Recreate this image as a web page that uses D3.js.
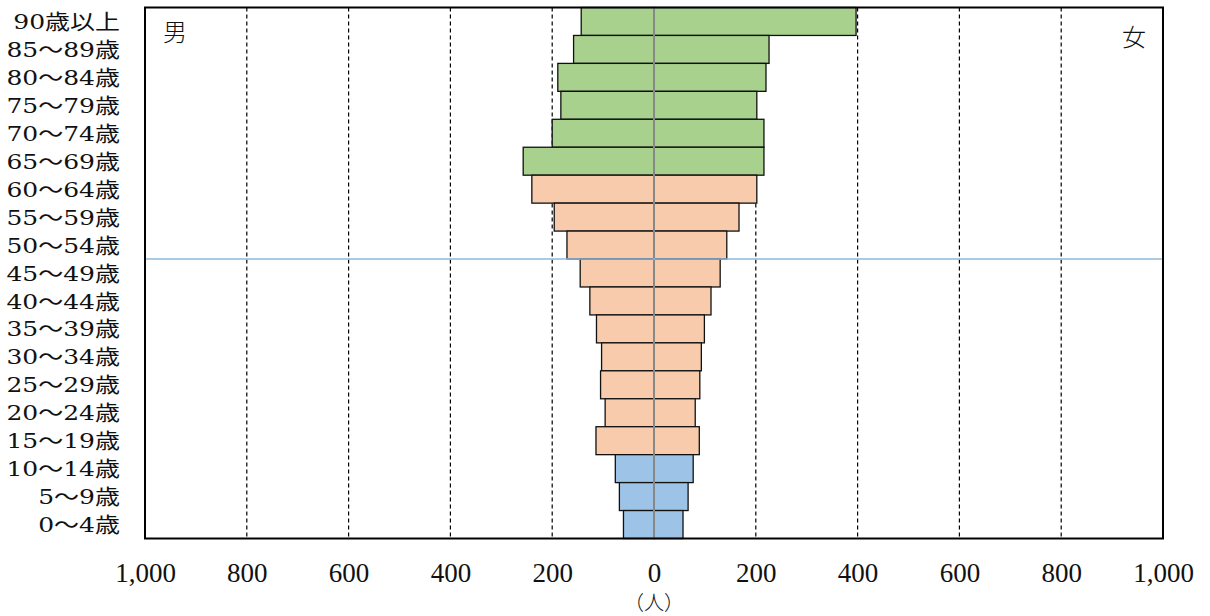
<!DOCTYPE html>
<html>
<head>
<meta charset="utf-8">
<script src="https://cdn.jsdelivr.net/npm/d3@7"></script>
<style>
  body { margin: 0; background: #fff; }
  svg { display: block; }
  .serif { font-family: "Liberation Serif", "Noto Sans CJK JP", serif; }
  .lbl { font-family: "DejaVu Serif", "Noto Sans CJK JP", serif; }
</style>
</head>
<body>
<svg id="chart" width="1210" height="616"></svg>
<script>
// age groups, top to bottom
const ageGroups = ["90歳以上", "85～89歳", "80～84歳", "75～79歳", "70～74歳", "65～69歳",
  "60～64歳", "55～59歳", "50～54歳", "45～49歳", "40～44歳", "35～39歳", "30～34歳",
  "25～29歳", "20～24歳", "15～19歳", "10～14歳", "5～9歳", "0～4歳"];
const male = [143, 158, 189, 183, 200, 257, 240, 196, 171, 145, 126, 113, 103, 105, 96, 114, 76, 68, 60];
const female = [397, 226, 220, 202, 216, 216, 202, 167, 143, 130, 112, 99, 93, 90, 81, 89, 77, 67, 57];
// 65+ / 15-64 / 0-14
const band = ["old", "old", "old", "old", "old", "old", "work", "work", "work", "work", "work",
  "work", "work", "work", "work", "work", "young", "young", "young"];
const ticks = [0, 200, 400, 600, 800, 1000];
const markerAfter = "50～54歳"; // blue line under this row

const colors = { old: "#a9d18e", work: "#f8cbad", young: "#9dc3e6" };

const svg = d3.select("#chart");
const cx = 654, pLeft = 145, pRight = 1163, pTop = 7.5, pBottom = 538.5;

const xL = d3.scaleLinear().domain([0, 1000]).range([cx, pLeft]);
const xR = d3.scaleLinear().domain([0, 1000]).range([cx, pRight]);
const y = d3.scaleBand().domain(ageGroups).range([pTop, pBottom]).padding(0);

const rows = ageGroups.map((a, i) => ({ age: a, m: male[i], f: female[i], band: band[i] }));

// dashed grid
const grid = svg.append("g");
ticks.filter(t => t > 0 && t < 1000).forEach(t => {
  [xL(t), xR(t)].forEach(x => {
    grid.append("line")
      .attr("x1", x).attr("x2", x).attr("y1", pTop).attr("y2", pBottom)
      .attr("stroke", "#000").attr("stroke-width", 1.2)
      .attr("stroke-dasharray", "4,3");
  });
});

// bars
const bars = svg.append("g");
bars.selectAll(".male").data(rows).enter().append("rect")
  .attr("class", "male")
  .attr("x", d => xL(d.m)).attr("y", d => y(d.age))
  .attr("width", d => cx - xL(d.m)).attr("height", y.bandwidth())
  .attr("fill", d => colors[d.band])
  .attr("stroke", "#111").attr("stroke-width", 1.3);
bars.selectAll(".female").data(rows).enter().append("rect")
  .attr("class", "female")
  .attr("x", cx).attr("y", d => y(d.age))
  .attr("width", d => xR(d.f) - cx).attr("height", y.bandwidth())
  .attr("fill", d => colors[d.band])
  .attr("stroke", "#111").attr("stroke-width", 1.3);

// centre axis
svg.append("line")
  .attr("x1", cx).attr("x2", cx).attr("y1", pTop).attr("y2", pBottom)
  .attr("stroke", "#888").attr("stroke-width", 2);

// blue marker line
const my = y(markerAfter) + y.bandwidth();
svg.append("line")
  .attr("x1", pLeft).attr("x2", pRight + 1).attr("y1", my).attr("y2", my)
  .attr("stroke", "#8fb9de").attr("stroke-width", 1.5);

// frame
svg.append("rect")
  .attr("x", pLeft).attr("y", pTop).attr("width", pRight - pLeft).attr("height", pBottom - pTop)
  .attr("fill", "none").attr("stroke", "#000").attr("stroke-width", 2);

// x axes
const fmt = d3.format(",");
const axL = svg.append("g").attr("class", "serif")
  .attr("transform", `translate(0,${pBottom})`)
  .call(d3.axisBottom(xL).tickValues(ticks.slice(1)).tickFormat(fmt).tickSize(0).tickPadding(24));
const axR = svg.append("g").attr("class", "serif")
  .attr("transform", `translate(0,${pBottom})`)
  .call(d3.axisBottom(xR).tickValues(ticks).tickFormat(fmt).tickSize(0).tickPadding(24));
[axL, axR].forEach(ax => {
  ax.select(".domain").remove();
  ax.selectAll("text").attr("font-size", 27).attr("fill", "#111")
    .attr("font-family", "Liberation Serif, serif");
});

svg.append("text")
  .attr("x", cx).attr("y", 610).attr("text-anchor", "middle")
  .attr("font-family", "Noto Sans CJK JP").attr("font-weight", 300)
  .attr("font-size", 20).attr("fill", "#111").text("（人）");

// age labels
const lab = svg.append("g").attr("class", "lbl");
lab.selectAll("g").data(rows).enter().append("g")
  .attr("transform", d => `translate(120,${y(d.age) + y.bandwidth() / 2}) scale(1.19,1)`)
  .append("text")
  .attr("text-anchor", "end").attr("dy", "0.36em")
  .attr("font-size", 21).attr("fill", "#111")
  .text(d => d.age);

// sex labels
svg.append("text").attr("x", 163).attr("y", 41)
  .attr("font-family", "Noto Sans CJK JP").attr("font-weight", 300)
  .attr("font-size", 24).attr("fill", "#111").text("男");
svg.append("text").attr("x", 1122).attr("y", 46)
  .attr("font-family", "Noto Sans CJK JP").attr("font-weight", 300)
  .attr("font-size", 24).attr("fill", "#111").text("女");
</script>
</body>
</html>
